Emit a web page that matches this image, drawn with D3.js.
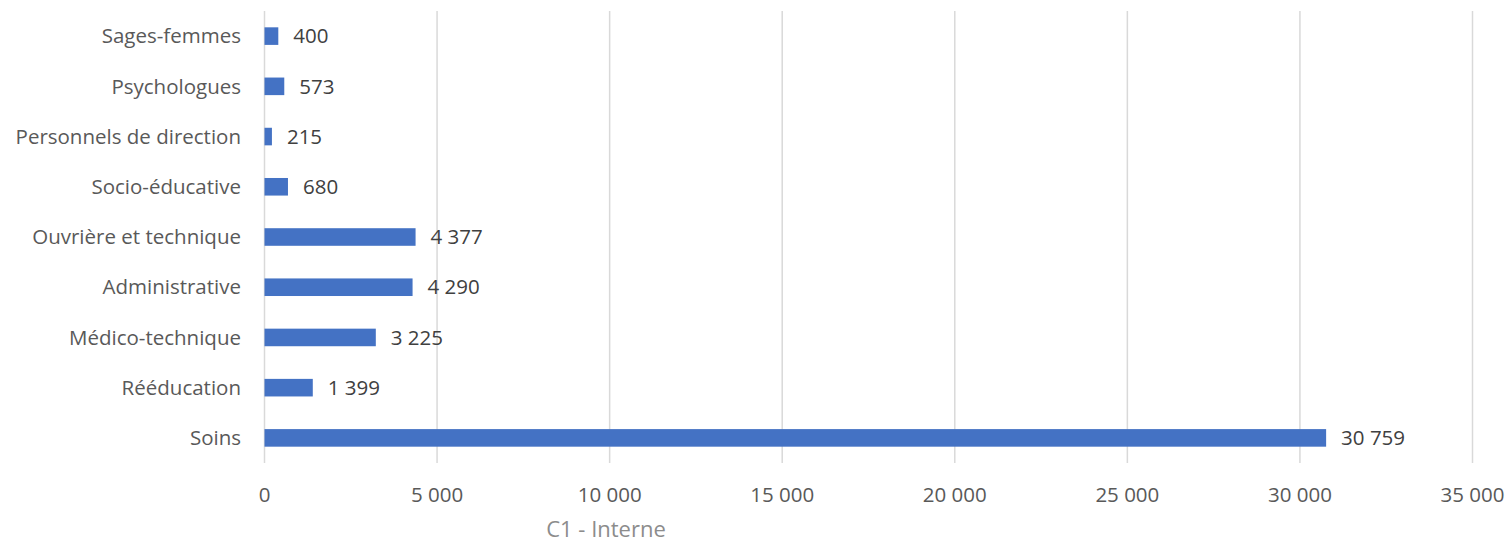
<!DOCTYPE html>
<html><head><meta charset="utf-8">
<script src="https://cdn.jsdelivr.net/npm/d3@7"></script>
<style>
html,body{margin:0;padding:0;background:#fff;}
svg text{font-family:"Open Sans","Noto Sans",sans-serif;}
</style></head>
<body><svg id="c" width="1506" height="543"></svg>
<script>
const categories = ["Sages-femmes","Psychologues","Personnels de direction","Socio-éducative","Ouvrière et technique","Administrative","Médico-technique","Rééducation","Soins"];
const values = [400,573,215,680,4377,4290,3225,1399,30759];
const xTicks = [0,5000,10000,15000,20000,25000,30000,35000];
const footer = "C1 - Interne";

const svg = d3.select("#c");
const x = d3.scaleLinear().domain([0,35000]).range([264.5,1472.5]);
const y = d3.scaleBand().domain(categories).range([11,463]).paddingInner(0.65).paddingOuter(0.325);
const fmt = v => d3.format(",")(v).replace(/,/g," ");

// gridlines
svg.append("g").selectAll("line").data(xTicks).join("line")
  .attr("x1",d=>x(d)).attr("x2",d=>x(d)).attr("y1",11).attr("y2",463)
  .attr("stroke","#d9d9d9").attr("stroke-width",1.5);

// bars
svg.append("g").selectAll("rect").data(values).join("rect")
  .attr("x",x(0)).attr("y",(d,i)=>y(categories[i]))
  .attr("width",d=>x(d)-x(0)).attr("height",y.bandwidth())
  .attr("fill","#4472c4");

// value labels
svg.append("g").selectAll("text").data(values).join("text")
  .attr("x",d=>x(d)+15).attr("y",(d,i)=>y(categories[i])+y.bandwidth()/2)
  .attr("dy","0.35em").attr("font-size",20.5).attr("fill","#404040")
  .text(d=>fmt(d));

// category axis labels
svg.append("g").selectAll("text").data(categories).join("text")
  .attr("x",241).attr("y",d=>y(d)+y.bandwidth()/2)
  .attr("dy","0.35em").attr("text-anchor","end").attr("font-size",20.5).attr("fill","#595959")
  .text(d=>d);

// x axis tick labels
svg.append("g").selectAll("text").data(xTicks).join("text")
  .attr("x",d=>x(d)).attr("y",495).attr("dy","0.35em")
  .attr("text-anchor","middle").attr("font-size",20.5).attr("fill","#595959")
  .text(d=>fmt(d));

svg.append("text").attr("x",606).attr("y",537)
  .attr("text-anchor","middle").attr("font-size",22).attr("fill","#8c8c8c").text(footer);
</script></body></html>
